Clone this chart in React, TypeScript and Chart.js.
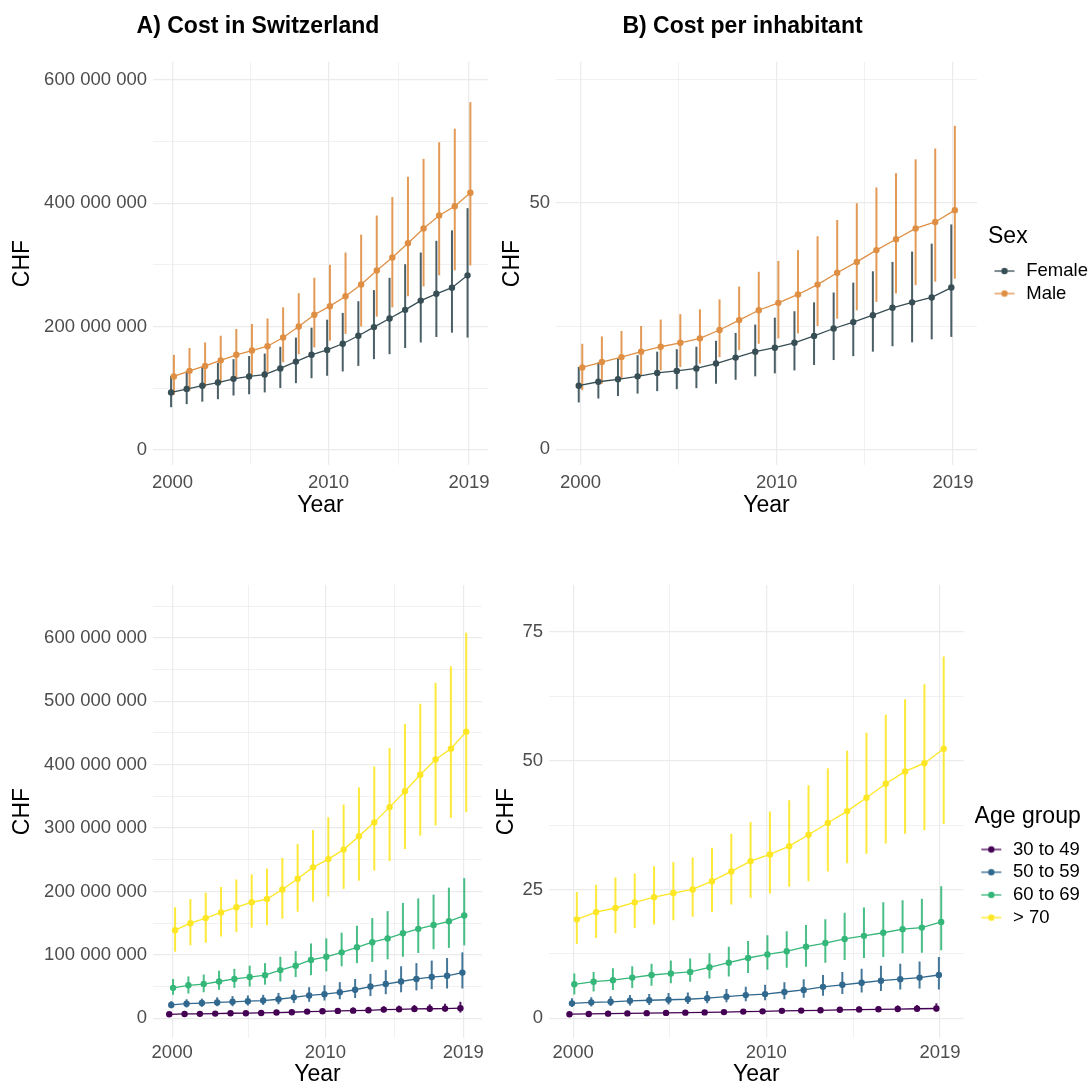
import React, { useEffect, useRef } from "react";
import { Chart, registerables } from "chart.js";

Chart.register(...registerables);

const FONT = "'Liberation Sans', Arial, Helvetica, sans-serif";
Chart.defaults.font.family = FONT;

// ---------- shared axes ----------
const years = [2000, 2001, 2002, 2003, 2004, 2005, 2006, 2007, 2008, 2009, 2010, 2011, 2012, 2013, 2014, 2015, 2016, 2017, 2018, 2019];
const xGridTicks = [2000, 2005, 2010, 2014.5, 2019];
const xLabelTicks = [2000, 2010, 2019];

// ---------- groups ----------
const sexLabels = ["Female", "Male"];
const sexColors = ["#374E55", "#DF8F44"];
const sexDodge = [-0.09, 0.09];

const ageLabels = ["30 to 49", "50 to 59", "60 to 69", "> 70"];
const ageColors = ["#440154", "#31688E", "#35B779", "#FDE725"];
const ageDodge = [-0.19, -0.06, 0.06, 0.19];

const MILLION = 1e6;

// ---------- A) Cost in Switzerland, by sex (million CHF) ----------
const totalFemaleMid = [93, 98.5, 104, 109, 115, 119, 122, 132, 143, 154, 162, 172, 185, 199, 213, 227, 242, 253, 263, 283];
const totalFemaleLo = [69, 74, 78, 82, 88, 90, 93, 100, 108, 116, 120, 127, 136, 147, 155, 165, 174, 183, 190, 182];
const totalFemaleHi = [120, 128, 135, 141, 147, 152, 156, 167, 182, 198, 211, 222, 241, 259, 279, 301, 320, 339, 356, 392];
const totalMaleMid = [119, 128, 136, 145, 154, 161, 168, 182, 200, 219, 233, 249, 268, 291, 312, 335, 359, 380, 395, 417];
const totalMaleLo = [89, 96, 102, 108, 116, 121, 126, 142, 155, 166, 177, 188, 200, 216, 231, 249, 265, 283, 291, 299];
const totalMaleHi = [154, 165, 174, 185, 196, 204, 213, 231, 254, 279, 300, 320, 349, 380, 410, 443, 472, 499, 521, 564];

// ---------- B) Cost per inhabitant, by sex (CHF) ----------
const inhFemaleMid = [12.9, 13.7, 14.2, 14.8, 15.5, 15.9, 16.4, 17.4, 18.6, 19.8, 20.6, 21.6, 23.0, 24.5, 25.8, 27.2, 28.7, 29.8, 30.8, 32.8];
const inhFemaleLo = [9.5, 10.3, 10.8, 11.3, 11.8, 12.2, 12.4, 13.3, 14.1, 14.8, 15.4, 16.0, 17.1, 18.1, 18.9, 19.8, 20.9, 21.7, 22.3, 22.8];
const inhFemaleHi = [16.7, 17.6, 18.4, 19.1, 19.8, 20.3, 20.8, 22.0, 23.6, 25.3, 26.7, 28.0, 29.8, 31.8, 33.8, 36.1, 38.0, 40.1, 41.7, 45.6];
const inhMaleMid = [16.6, 17.7, 18.7, 19.8, 20.8, 21.6, 22.5, 24.2, 26.2, 28.2, 29.7, 31.4, 33.4, 35.8, 38.0, 40.4, 42.6, 44.8, 46.1, 48.5];
const inhMaleLo = [12.0, 13.3, 14.3, 15.0, 16.0, 16.7, 17.4, 18.7, 20.1, 21.4, 22.5, 23.5, 25.0, 26.5, 28.2, 29.9, 31.6, 33.3, 34.0, 34.6];
const inhMaleHi = [21.4, 22.9, 24.0, 25.0, 26.3, 27.4, 28.4, 30.4, 33.0, 36.0, 38.2, 40.4, 43.2, 46.5, 49.9, 53.1, 56.0, 58.8, 61.0, 65.6];

// ---------- C) Cost in Switzerland, by age group (million CHF) ----------
const totA3049Mid = [6.3, 6.8, 7.0, 7.4, 7.9, 8.0, 8.4, 9.0, 9.5, 10.5, 11.0, 11.6, 12.0, 12.6, 13.7, 14.2, 14.7, 15.0, 15.3, 16.0];
const totA3049Lo = [5, 5, 5, 5.5, 6, 6, 6, 6.5, 7, 7.5, 8, 8, 8.5, 9, 9.5, 10, 10, 10.5, 10.5, 9];
const totA3049Hi = [8, 9, 9, 10, 10, 11, 11, 12, 13, 14, 15, 16, 17, 18, 19, 20, 21, 22, 23, 26];
const totA5059Mid = [21, 23, 24, 25, 26, 27, 28, 30, 33, 36, 38, 41, 45, 50, 54, 58, 62, 65, 67, 72];
const totA5059Lo = [16, 17, 18, 19, 19, 20, 21, 22, 24, 26, 28, 30, 32, 35, 38, 41, 44, 46, 47, 47];
const totA5059Hi = [27, 30, 31, 33, 35, 36, 37, 40, 45, 49, 52, 57, 62, 70, 76, 82, 87, 91, 95, 104];
const totA6069Mid = [48, 52, 54, 58, 62, 65, 68, 76, 83, 92, 97, 104, 112, 120, 126, 134, 141, 147, 153, 162];
const totA6069Lo = [37, 39, 41, 45, 48, 50, 53, 58, 65, 68, 74, 82, 87, 89, 93, 97, 103, 109, 111, 115];
const totA6069Hi = [62, 66, 69, 75, 78, 83, 87, 97, 106, 118, 126, 135, 146, 158, 169, 182, 189, 195, 206, 221];
const totA70Mid = [139, 150, 158, 167, 175, 183, 188, 203, 220, 238, 251, 266, 287, 309, 333, 358, 384, 408, 425, 452];
const totA70Lo = [105, 115, 119, 129, 136, 143, 147, 157, 168, 184, 192, 204, 217, 233, 248, 267, 288, 304, 316, 325];
const totA70Hi = [175, 188, 198, 207, 219, 227, 236, 253, 275, 297, 317, 337, 364, 397, 426, 464, 496, 529, 555, 608];

// ---------- D) Cost per inhabitant, by age group (CHF) ----------
const inhA3049Mid = [0.8, 0.85, 0.9, 0.95, 1.0, 1.05, 1.1, 1.15, 1.2, 1.3, 1.35, 1.45, 1.5, 1.55, 1.65, 1.7, 1.75, 1.8, 1.85, 1.9];
const inhA3049Lo = [0.6, 0.65, 0.7, 0.7, 0.75, 0.8, 0.8, 0.85, 0.9, 0.95, 1.0, 1.05, 1.1, 1.1, 1.2, 1.2, 1.25, 1.3, 1.3, 1.3];
const inhA3049Hi = [1.1, 1.15, 1.2, 1.3, 1.35, 1.4, 1.45, 1.55, 1.6, 1.75, 1.8, 1.95, 2.0, 2.1, 2.2, 2.3, 2.4, 2.5, 2.6, 2.9];
const inhA5059Mid = [2.9, 3.1, 3.2, 3.4, 3.5, 3.6, 3.7, 3.9, 4.2, 4.5, 4.7, 5.1, 5.5, 6.1, 6.5, 6.9, 7.3, 7.6, 7.9, 8.4];
const inhA5059Lo = [2.2, 2.3, 2.4, 2.5, 2.6, 2.7, 2.8, 2.9, 3.1, 3.3, 3.5, 3.7, 4.0, 4.4, 4.7, 5.0, 5.3, 5.6, 5.8, 5.6];
const inhA5059Hi = [3.9, 4.1, 4.3, 4.5, 4.7, 4.9, 5.0, 5.3, 5.7, 6.1, 6.5, 7.0, 7.6, 8.4, 9.0, 9.6, 10.2, 10.6, 11.0, 11.9];
const inhA6069Mid = [6.6, 7.1, 7.4, 7.9, 8.4, 8.7, 9.0, 9.9, 10.8, 11.7, 12.4, 13.0, 13.9, 14.6, 15.4, 16.0, 16.6, 17.3, 17.6, 18.7];
const inhA6069Lo = [4.6, 5.2, 5.5, 5.9, 6.3, 6.8, 7.1, 7.7, 8.1, 8.8, 9.4, 9.8, 10.0, 10.8, 11.3, 11.7, 11.9, 12.6, 12.7, 13.2];
const inhA6069Hi = [8.7, 9.0, 9.7, 10.1, 10.6, 11.2, 11.6, 12.6, 13.9, 15.0, 16.1, 16.9, 18.1, 19.2, 20.5, 21.5, 22.5, 22.9, 23.2, 25.6];
const inhA70Mid = [19.2, 20.6, 21.4, 22.5, 23.5, 24.3, 25.0, 26.6, 28.5, 30.5, 31.8, 33.4, 35.6, 37.9, 40.2, 42.8, 45.5, 47.9, 49.5, 52.3];
const inhA70Lo = [14.4, 15.6, 16.5, 17.5, 18.2, 19.0, 19.7, 20.6, 22.1, 23.4, 24.2, 25.5, 26.6, 28.5, 30.1, 31.9, 33.9, 35.8, 36.5, 37.7];
const inhA70Hi = [24.5, 25.9, 27.3, 28.1, 29.5, 30.3, 31.2, 33.1, 35.8, 38.1, 40.1, 42.3, 45.2, 48.5, 51.9, 55.4, 58.9, 61.9, 64.8, 70.2];

// ---------- y tick positions ----------
const totalSexYGrid = [0, 100, 200, 300, 400, 500, 600];
const totalSexYLabels = [0, 200, 400, 600];
const inhSexYGrid = [0, 25, 50, 75];
const inhSexYLabels = [0, 50];
const totalAgeYGrid = [0, 50, 100, 150, 200, 250, 300, 350, 400, 450, 500, 550, 600, 650];
const totalAgeYLabels = [0, 100, 200, 300, 400, 500, 600];
const inhAgeYGrid = [0, 12.5, 25, 37.5, 50, 62.5, 75];
const inhAgeYLabels = [0, 25, 50, 75];

type Series = { label: string; color: string; dodge: number; mid: number[]; lo: number[]; hi: number[] };

const sexTotal: Series[] = [
  { label: sexLabels[0], color: sexColors[0], dodge: sexDodge[0], mid: totalFemaleMid, lo: totalFemaleLo, hi: totalFemaleHi },
  { label: sexLabels[1], color: sexColors[1], dodge: sexDodge[1], mid: totalMaleMid, lo: totalMaleLo, hi: totalMaleHi },
];
const sexInh: Series[] = [
  { label: sexLabels[0], color: sexColors[0], dodge: sexDodge[0], mid: inhFemaleMid, lo: inhFemaleLo, hi: inhFemaleHi },
  { label: sexLabels[1], color: sexColors[1], dodge: sexDodge[1], mid: inhMaleMid, lo: inhMaleLo, hi: inhMaleHi },
];
const ageTotal: Series[] = [
  { label: ageLabels[0], color: ageColors[0], dodge: ageDodge[0], mid: totA3049Mid, lo: totA3049Lo, hi: totA3049Hi },
  { label: ageLabels[1], color: ageColors[1], dodge: ageDodge[1], mid: totA5059Mid, lo: totA5059Lo, hi: totA5059Hi },
  { label: ageLabels[2], color: ageColors[2], dodge: ageDodge[2], mid: totA6069Mid, lo: totA6069Lo, hi: totA6069Hi },
  { label: ageLabels[3], color: ageColors[3], dodge: ageDodge[3], mid: totA70Mid, lo: totA70Lo, hi: totA70Hi },
];
const ageInh: Series[] = [
  { label: ageLabels[0], color: ageColors[0], dodge: ageDodge[0], mid: inhA3049Mid, lo: inhA3049Lo, hi: inhA3049Hi },
  { label: ageLabels[1], color: ageColors[1], dodge: ageDodge[1], mid: inhA5059Mid, lo: inhA5059Lo, hi: inhA5059Hi },
  { label: ageLabels[2], color: ageColors[2], dodge: ageDodge[2], mid: inhA6069Mid, lo: inhA6069Lo, hi: inhA6069Hi },
  { label: ageLabels[3], color: ageColors[3], dodge: ageDodge[3], mid: inhA70Mid, lo: inhA70Lo, hi: inhA70Hi },
];

type LegendSpec = { title: string; maxWidth: number; padding: number; titleTop: number; titleBottom: number };
type PanelSpec = {
  key: string;
  left: number; top: number; width: number; height: number;
  title?: string;
  padTop: number; padRight: number; gap: number;
  yAxisWidth: number; yTitlePad: number;
  yMin: number; yMax: number; yGrid: number[]; yLabels: number[]; unit: number;
  xAxisHeight: number; xTickPad: number; xTitlePad: number;
  legend?: LegendSpec;
  series: Series[];
};

const panels: PanelSpec[] = [
  {
    key: "A", left: 0, top: 0, width: 516, height: 525, title: "A) Cost in Switzerland",
    padTop: 0, padRight: 0, gap: 28, yAxisWidth: 153, yTitlePad: 9.2,
    yMin: -24.8e6, yMax: 629.2e6, yGrid: totalSexYGrid, yLabels: totalSexYLabels, unit: MILLION,
    xAxisHeight: 60, xTickPad: 7, xTitlePad: 5.2, series: sexTotal,
  },
  {
    key: "B", left: 397, top: 0, width: 694, height: 525, title: "B) Cost per inhabitant",
    padTop: 0, padRight: 3, gap: 11, yAxisWidth: 159, yTitlePad: 102.2,
    yMin: -3.18, yMax: 78.54, yGrid: inhSexYGrid, yLabels: inhSexYLabels, unit: 1,
    xAxisHeight: 60, xTickPad: 7, xTitlePad: 5.2,
    legend: { title: "Sex", maxWidth: 100, padding: 4, titleTop: 7, titleBottom: 5 },
    series: sexInh,
  },
  {
    key: "C", left: 0, top: 540, width: 516, height: 555,
    padTop: 45, padRight: 34, gap: 0, yAxisWidth: 153, yTitlePad: 9.2,
    yMin: -31.1e6, yMax: 683.3e6, yGrid: totalAgeYGrid, yLabels: totalAgeYLabels, unit: MILLION,
    xAxisHeight: 57, xTickPad: 4.2, xTitlePad: 6.2, series: ageTotal,
  },
  {
    key: "D", left: 480, top: 540, width: 611, height: 555,
    padTop: 45, padRight: 6.4, gap: 11, yAxisWidth: 69, yTitlePad: 13.2,
    yMin: -3.82, yMax: 84.06, yGrid: inhAgeYGrid, yLabels: inhAgeYLabels, unit: 1,
    xAxisHeight: 57, xTickPad: 4.2, xTitlePad: 6.2,
    legend: { title: "Age group", maxWidth: 110, padding: 4.2, titleTop: 56, titleBottom: 3.5 },
    series: ageInh,
  },
];

const X_MIN = 1998.75;
const X_MAX = 2020.22;
const GRID = "#ebebeb";
const TICK = "#4d4d4d";

function rgba(hex: string, a: number) {
  const n = parseInt(hex.slice(1), 16);
  return `rgba(${(n >> 16) & 255},${(n >> 8) & 255},${n & 255},${a})`;
}

function fmt(v: number) {
  return Math.round(v).toString().replace(/\B(?=(\d{3})+(?!\d))/g, " ");
}

function legendIcon(color: string) {
  const c = document.createElement("canvas");
  c.width = 22;
  c.height = 10;
  const ctx = c.getContext("2d")!;
  ctx.strokeStyle = color;
  ctx.lineWidth = 1.3;
  ctx.beginPath();
  ctx.moveTo(1, 5);
  ctx.lineTo(21, 5);
  ctx.stroke();
  ctx.fillStyle = color;
  ctx.beginPath();
  ctx.arc(11, 5, 3.2, 0, Math.PI * 2);
  ctx.fill();
  return c;
}

function isIn(list: number[], v: number, scale: number) {
  return list.some((t) => Math.abs(t * scale - v) < 1e-6 * Math.max(1, scale));
}

function makeConfig(spec: PanelSpec): any {
  const datasets: any[] = [];
  spec.series.forEach((s) => {
    datasets.push({
      type: "line",
      label: s.label,
      data: years.map((yr, k) => ({ x: yr + s.dodge, y: s.mid[k] * spec.unit })),
      borderColor: s.color,
      backgroundColor: s.color,
      pointBackgroundColor: s.color,
      pointBorderColor: s.color,
      borderWidth: 1.3,
      pointRadius: 3.2,
      pointHoverRadius: 3.2,
      pointBorderWidth: 0,
      tension: 0,
      fill: false,
      order: 1,
      xAxisID: "x",
      yAxisID: "y",
    });
  });
  spec.series.forEach((s) => {
    datasets.push({
      type: "bar",
      label: s.label + " interval",
      data: years.map((yr, k) => ({ x: yr + s.dodge, y: [s.lo[k] * spec.unit, s.hi[k] * spec.unit] })),
      backgroundColor: rgba(s.color, 0.9),
      borderWidth: 0,
      grouped: false,
      categoryPercentage: 1,
      barPercentage: 8,
      maxBarThickness: 2,
      order: 2,
      xAxisID: "x",
      yAxisID: "y",
    });
  });

  const icons = spec.series.map((s) => legendIcon(s.color));

  return {
    type: "line",
    data: { datasets },
    options: {
      responsive: false,
      maintainAspectRatio: false,
      animation: false,
      events: [],
      layout: { padding: { top: spec.padTop, right: spec.padRight, left: 0, bottom: 0 } },
      plugins: {
        tooltip: { enabled: false },
        title: spec.title
          ? {
              display: true,
              text: spec.title,
              color: "#000",
              fullSize: true,
              font: { family: FONT, size: 23, weight: "bold", lineHeight: 1.2 },
              padding: { top: 13, bottom: 21.4 },
            }
          : { display: false },
        legend: spec.legend
          ? {
              display: true,
              position: "right",
              align: "center",
              maxWidth: spec.legend.maxWidth,
              title: {
                display: true,
                text: spec.legend.title,
                color: "#000",
                position: "start",
                font: { family: FONT, size: 23, lineHeight: 1.2 },
                padding: { top: spec.legend.titleTop, bottom: spec.legend.titleBottom },
              },
              labels: {
                usePointStyle: true,
                pointStyleWidth: 25,
                padding: spec.legend.padding,
                color: "#000",
                font: { family: FONT, size: 18.5 },
                filter: (item: any, data: any) => data.datasets[item.datasetIndex].type === "line",
                generateLabels: (chart: any) => {
                  const items = (Chart.defaults.plugins.legend.labels as any).generateLabels(chart);
                  return items.map((it: any) => ({
                    ...it,
                    pointStyle: it.datasetIndex < icons.length ? icons[it.datasetIndex] : it.pointStyle,
                  }));
                },
              },
            }
          : { display: false },
      },
      scales: {
        x: {
          type: "linear",
          position: "bottom",
          min: X_MIN,
          max: X_MAX,
          offset: false,
          afterBuildTicks: (scale: any) => {
            scale.ticks = xGridTicks.map((v) => ({ value: v }));
          },
          afterFit: (scale: any) => {
            scale.height = spec.xAxisHeight;
          },
          ticks: {
            autoSkip: false,
            maxRotation: 0,
            minRotation: 0,
            padding: spec.xTickPad,
            color: TICK,
            font: { family: FONT, size: 18.5, lineHeight: 1.2 },
            callback: (v: any) => (xLabelTicks.includes(Number(v)) ? String(v) : ""),
          },
          grid: {
            offset: false,
            color: GRID,
            drawTicks: false,
            lineWidth: (ctx: any) => (ctx.tick && xLabelTicks.includes(ctx.tick.value) ? 1.2 : 0.7),
          },
          border: { display: false },
          title: {
            display: true,
            text: "Year",
            color: "#000",
            font: { family: FONT, size: 23, lineHeight: 1.2 },
            padding: { top: 0, bottom: spec.xTitlePad },
          },
        },
        y: {
          type: "linear",
          position: "left",
          min: spec.yMin,
          max: spec.yMax,
          afterBuildTicks: (scale: any) => {
            scale.ticks = spec.yGrid.map((v) => ({ value: v * spec.unit }));
          },
          afterFit: (scale: any) => {
            scale.width = spec.yAxisWidth;
          },
          ticks: {
            autoSkip: false,
            padding: 6,
            color: TICK,
            font: { family: FONT, size: 18.5, lineHeight: 1.2 },
            callback: (v: any) => (isIn(spec.yLabels, Number(v), spec.unit) ? fmt(Number(v)) : ""),
          },
          grid: {
            offset: false,
            color: GRID,
            drawTicks: false,
            lineWidth: (ctx: any) => (ctx.tick && isIn(spec.yLabels, ctx.tick.value, spec.unit) ? 1.2 : 0.7),
          },
          border: { display: false },
          title: {
            display: true,
            text: "CHF",
            color: "#000",
            font: { family: FONT, size: 23, lineHeight: 1.2 },
            padding: { top: spec.yTitlePad, bottom: 0 },
          },
        },
        gap: {
          type: "linear",
          position: "right",
          display: spec.gap > 0,
          afterFit: (scale: any) => {
            scale.width = spec.gap;
          },
          ticks: { display: false },
          grid: { display: false, drawTicks: false },
          border: { display: false },
          title: { display: false },
        },
      },
    },
  };
}

function Panel({ spec }: { spec: PanelSpec }) {
  const ref = useRef<HTMLCanvasElement | null>(null);
  useEffect(() => {
    if (!ref.current) return;
    const chart = new Chart(ref.current, makeConfig(spec));
    return () => chart.destroy();
  }, [spec]);
  return (
    <canvas
      ref={ref}
      width={spec.width}
      height={spec.height}
      style={{ position: "absolute", left: spec.left, top: spec.top, width: spec.width, height: spec.height }}
    />
  );
}

export default function App() {
  return (
    <div
      style={{
        position: "absolute",
        left: 0,
        top: 0,
        width: 1091,
        height: 1087,
        overflow: "hidden",
        background: "#ffffff",
        fontFamily: FONT,
      }}
    >
      {panels.map((p) => (
        <Panel key={p.key} spec={p} />
      ))}
    </div>
  );
}
